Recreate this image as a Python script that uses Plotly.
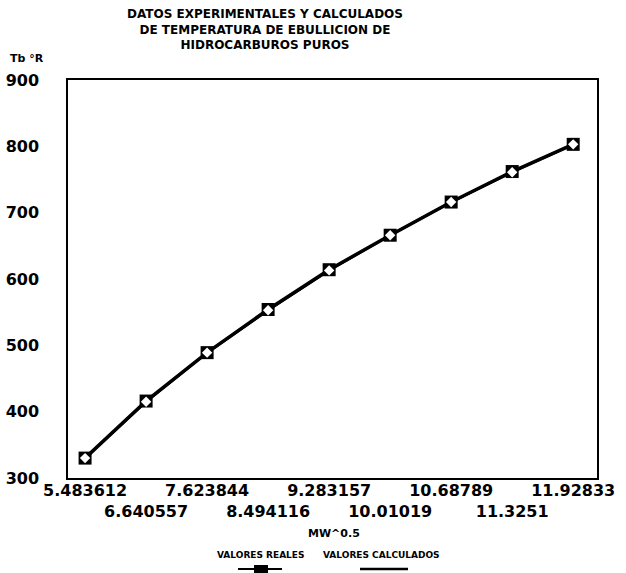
import plotly.graph_objects as go

# Sqrt of molecular weight (category labels) and boiling temperatures (°R)
mw_sqrt = ["5.483612", "6.640557", "7.623844", "8.494116", "9.283157",
           "10.01019", "10.68789", "11.3251", "11.92833"]
tb_reales = [330, 416, 489, 554, 614, 666, 716, 762, 803]
tb_calculados = [330, 415, 489, 553, 613, 666, 716, 761, 803]

y_ticks = [300, 400, 500, 600, 700, 800, 900]

W, H = 626, 573
L, R, T, B = 68, 29, 80, 95
PW, PH = W - L - R, H - T - B


def px(x):
    return (x - L) / PW


def py(y):
    return (H - B - y) / PH


FONT = "DejaVu Sans"
idx = list(range(len(mw_sqrt)))
# staggered tick labels: every other one drops to a second row
tick_text = [t if i % 2 == 0 else "<br>" + t for i, t in enumerate(mw_sqrt)]

fig = go.Figure()
fig.add_trace(go.Scatter(
    x=idx, y=tb_reales, mode="lines+markers", name="VALORES REALES",
    line=dict(color="black", width=3.5),
    marker=dict(symbol="square", size=13, color="black"),
    showlegend=False,
))
fig.add_trace(go.Scatter(
    x=idx, y=tb_calculados, mode="lines+markers", name="VALORES CALCULADOS",
    line=dict(color="black", width=2.5),
    marker=dict(symbol="diamond", size=8, color="white"),
    showlegend=False,
))

fig.update_layout(
    width=W, height=H,
    margin=dict(l=L, r=R, t=T, b=B),
    paper_bgcolor="white", plot_bgcolor="white",
    font=dict(family=FONT, color="black"),
    xaxis=dict(
        range=[-0.28, 8.39], tickmode="array", tickvals=idx, ticktext=tick_text,
        tickangle=0, automargin=False,
        showgrid=False, zeroline=False, ticks="",
        showline=True, linecolor="black", linewidth=1.5, mirror=True,
        tickfont=dict(family=FONT, size=16, weight="bold"),
        ticklabelstandoff=-3,
    ),
    yaxis=dict(
        range=[300, 900], tickmode="array", tickvals=y_ticks,
        ticktext=[str(v) for v in y_ticks], automargin=False,
        showgrid=False, zeroline=False, ticks="",
        showline=True, linecolor="black", linewidth=1.5, mirror=True,
        tickfont=dict(family=FONT, size=16, weight="bold"),
        ticklabelstandoff=24,
    ),
)

annotations = [
    dict(x=px(265), y=py(29), text="DATOS EXPERIMENTALES Y CALCULADOS<br>"
         "DE TEMPERATURA DE EBULLICION DE<br>HIDROCARBUROS PUROS",
         font=dict(family=FONT, size=12, weight="bold"), align="center"),
    dict(x=px(8), y=py(58), text="Tb °R", xanchor="left",
         font=dict(family=FONT, size=11, weight="bold")),
    dict(x=px(334), y=py(533), text="MW^0.5",
         font=dict(family=FONT, size=11, weight="bold")),
    dict(x=px(261), y=py(555), text="VALORES REALES",
         font=dict(family=FONT, size=9, weight="bold")),
    dict(x=px(381), y=py(555), text="VALORES CALCULADOS",
         font=dict(family=FONT, size=9, weight="bold")),
]
for a in annotations:
    a.update(xref="paper", yref="paper", showarrow=False, yanchor="middle")
fig.update_layout(annotations=annotations)

# legend keys drawn under their labels
fig.update_layout(shapes=[
    dict(type="line", xref="paper", yref="paper", x0=px(238), x1=px(282),
         y0=py(569), y1=py(569), line=dict(color="black", width=2)),
    dict(type="rect", xref="paper", yref="paper", x0=px(254), x1=px(268),
         y0=py(565), y1=py(573), fillcolor="black", line=dict(width=0)),
    dict(type="line", xref="paper", yref="paper", x0=px(360), x1=px(408),
         y0=py(569), y1=py(569), line=dict(color="black", width=2.5)),
])

fig.write_html("out.html")
